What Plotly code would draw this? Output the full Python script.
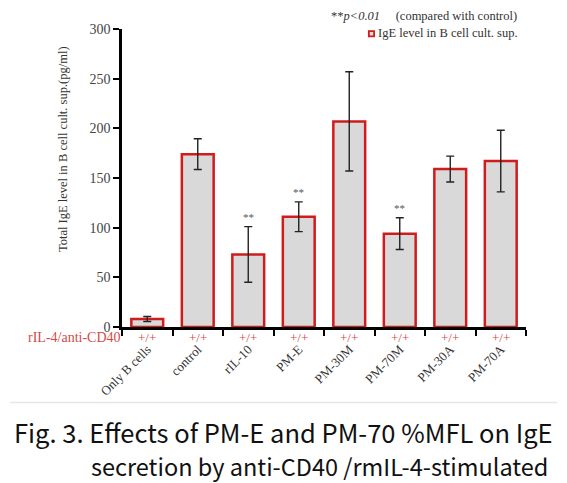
import plotly.graph_objects as go

categories = ["Only B cells", "control", "rIL-10", "PM-E", "PM-30M", "PM-70M", "PM-30A", "PM-70A"]
ige_values = [8, 174, 73, 111, 207, 94, 159, 167]
ige_errors = [2.5, 15.5, 28, 15, 50, 16, 13, 31]
significant = [False, False, True, True, False, True, False, False]
treatment = ["+/+"] * 8
y_ticks = [0, 50, 100, 150, 200, 250, 300]

SERIF = "Liberation Serif, Times New Roman, serif"
RED = "#d01c1c"
TXT_RED = "#d04a4a"
CAPTION_FONT = "Noto Sans CJK KR, Noto Sans, sans-serif"

fig = go.Figure()
fig.add_trace(go.Bar(
    x=categories, y=ige_values, name="IgE level in B cell cult. sup.",
    width=0.63, showlegend=False,
    marker=dict(color="#d9d9d9", line=dict(color=RED, width=2.5)),
    error_y=dict(type="data", array=ige_errors, visible=True, color="#222222",
                 thickness=1.4, width=4),
))

annotations = []
for c, v, e, s in zip(categories, ige_values, ige_errors, significant):
    if s:
        annotations.append(dict(x=c, y=v + e, xref="x", yref="y", text="**",
                                showarrow=False, yanchor="bottom", yshift=2,
                                font=dict(family=SERIF, size=11, color="#555555")))
for c, t in zip(categories, treatment):
    annotations.append(dict(x=c, y=0, xref="x", yref="y", text=t, showarrow=False,
                            yanchor="middle", yshift=-10,
                            font=dict(family=SERIF, size=13, color=TXT_RED)))
annotations.append(dict(x=0, y=0, xref="paper", yref="y", text="rIL-4/anti-CD40",
                        showarrow=False, xanchor="right", yanchor="middle",
                        xshift=1, yshift=-10,
                        font=dict(family=SERIF, size=14, color=TXT_RED)))
annotations.append(dict(x=-0.146, y=0.597, xref="paper", yref="paper",
                        text="Total IgE level in B cell cult. sup.(pg/ml)",
                        textangle=-90, showarrow=False, xanchor="center", yanchor="middle",
                        font=dict(family=SERIF, size=12.5, color="#333333")))
annotations.append(dict(x=0.983, y=1.0435, xref="paper", yref="paper",
                        text="**<i>p&lt;0.01</i>\u00a0\u00a0\u00a0\u00a0\u00a0(compared with control)",
                        showarrow=False, xanchor="right", yanchor="middle",
                        font=dict(family=SERIF, size=12.5, color="#333333")))
annotations.append(dict(x=0.629, y=0.985, xref="paper", yref="paper",
                        text="IgE level in B cell cult. sup.",
                        showarrow=False, xanchor="left", yanchor="middle",
                        font=dict(family=SERIF, size=12.5, color="#333333")))
annotations.append(dict(x=-0.272, y=-0.35, xref="paper", yref="paper",
                        text="Fig. 3. Effects of PM-E and PM-70 %MFL on IgE",
                        showarrow=False, xanchor="left", yanchor="middle",
                        font=dict(family=CAPTION_FONT, size=25.5, color="#111111")))
annotations.append(dict(x=-0.081, y=-0.466, xref="paper", yref="paper",
                        text="secretion by anti-CD40 /rmIL-4-stimulated",
                        showarrow=False, xanchor="left", yanchor="middle",
                        font=dict(family=CAPTION_FONT, size=23.5, color="#111111")))

fig.update_layout(
    width=559, height=475,
    margin=dict(l=114, r=41, t=20.5, b=155.7, autoexpand=False),
    paper_bgcolor="white", plot_bgcolor="white",
    annotations=annotations,
    bargap=0.37,
    shapes=[
        dict(type="line", xref="paper", yref="paper",
             x0=-0.277, x1=1.077, y0=-0.2533, y1=-0.2533,
             line=dict(color="#e6e6e6", width=1.5)),
        dict(type="rect", xref="paper", yref="paper",
             x0=0.611, x1=0.624, y0=0.975, y1=0.993,
             fillcolor="#d9d9d9", line=dict(color=RED, width=1.8)),
    ],
)
fig.update_xaxes(
    showline=True, linecolor="black", linewidth=2.5,
    ticks="outside", tickson="boundaries", ticklen=6, tickwidth=2, tickcolor="black",
    tickangle=-45, ticklabelstandoff=7,
    tickfont=dict(family=SERIF, size=13, color="#333333"),
    showgrid=False, zeroline=False,
)
fig.update_yaxes(
    range=[0, 300], tickvals=y_ticks,
    showline=True, linecolor="black", linewidth=2.5,
    ticks="outside", ticklen=6, tickwidth=1.5, tickcolor="black",
    tickfont=dict(family=SERIF, size=14, color="#444444"),
    showgrid=False, zeroline=False,
)

fig.write_html("out.html")
